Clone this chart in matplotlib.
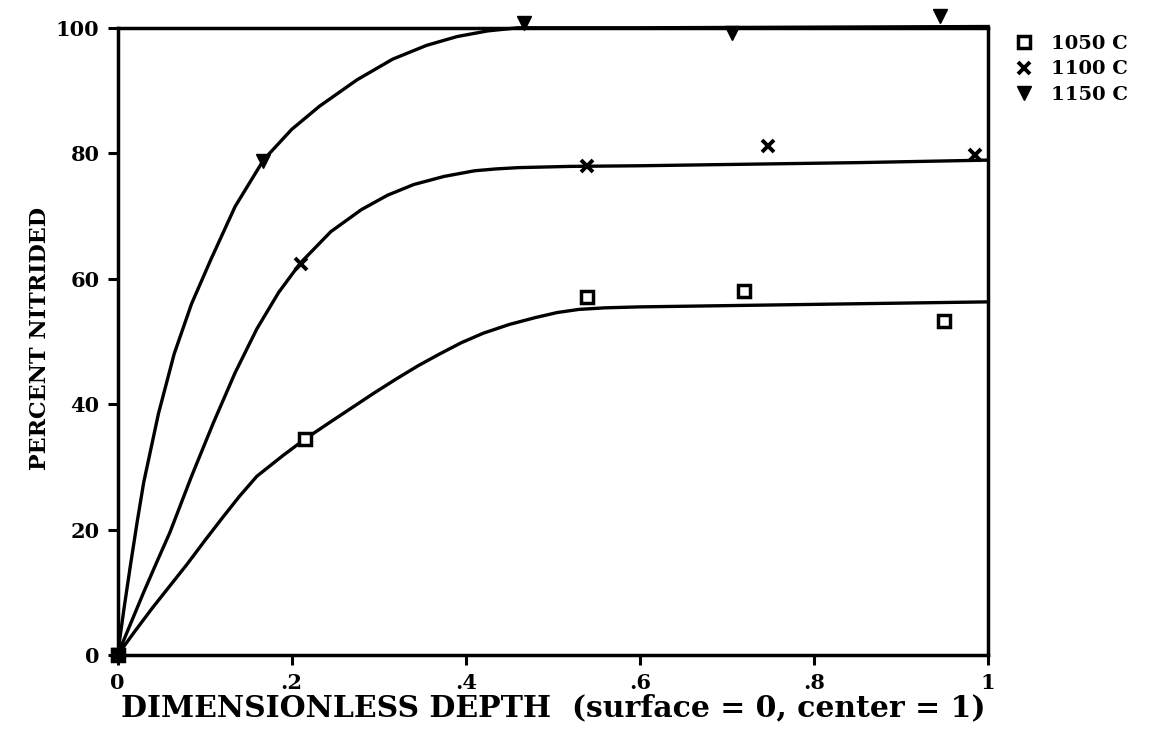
import matplotlib
matplotlib.use("Agg")
from matplotlib import pyplot as plt

# measured points
depth_1050 = [0, 0.215, 0.539, 0.72, 0.949]
pct_1050   = [0, 34.4, 57.0, 58.1, 53.3]
depth_1100 = [0, 0.211, 0.539, 0.747, 0.985]
pct_1100   = [0, 62.4, 77.9, 81.1, 79.7]
depth_1150 = [0, 0.167, 0.467, 0.706, 0.945]
pct_1150   = [0, 78.7, 100.8, 99.2, 101.8]

# hand-drawn fit curves
curve_x_1050 = [0, 0.02, 0.04, 0.06, 0.08, 0.10, 0.12, 0.14, 0.16, 0.19, 0.215, 0.245, 0.27, 0.295,
                0.32, 0.345, 0.37, 0.395, 0.42, 0.45, 0.48, 0.505, 0.53, 0.56, 0.6, 0.7, 0.85, 1.0]
curve_y_1050 = [0, 3.8, 7.5, 11.0, 14.5, 18.2, 21.8, 25.3, 28.5, 31.8, 34.4, 37.2, 39.5, 41.8,
                44.0, 46.1, 48.0, 49.8, 51.3, 52.7, 53.8, 54.6, 55.1, 55.35, 55.5, 55.7, 56.0, 56.3]
curve_x_1100 = [0, 0.015, 0.03, 0.045, 0.06, 0.085, 0.11, 0.135, 0.16, 0.185, 0.21, 0.245, 0.28,
                0.31, 0.34, 0.375, 0.41, 0.435, 0.46, 0.52, 0.6, 0.7, 0.85, 1.0]
curve_y_1100 = [0, 5.0, 10.0, 14.8, 19.5, 28.5, 37.0, 45.0, 52.0, 57.8, 62.5, 67.5, 71.0,
                73.3, 75.0, 76.3, 77.2, 77.5, 77.7, 77.9, 78.0, 78.2, 78.5, 78.9]
curve_x_1150 = [0, 0.0075, 0.015, 0.0225, 0.03, 0.047, 0.065, 0.085, 0.107, 0.135, 0.168, 0.2,
                0.232, 0.275, 0.316, 0.355, 0.39, 0.425, 0.46, 0.6, 0.8, 1.0]
curve_y_1150 = [0, 7.5, 14.5, 21.2, 27.5, 38.5, 48.0, 56.0, 63.0, 71.5, 79.0, 83.8,
                87.5, 91.7, 95.0, 97.2, 98.6, 99.5, 100.0, 100.0, 100.1, 100.2]

labels = ["1050 C", "1100 C", "1150 C"]
xticks = [0, 0.2, 0.4, 0.6, 0.8, 1.0]
xtick_labels = ["0", ".2", ".4", ".6", ".8", "1"]
yticks = [0, 20, 40, 60, 80, 100]

font = "DejaVu Serif"

fig = plt.figure(figsize=(11.64, 7.31), dpi=100)
ax = fig.add_axes([0.101, 0.104, 0.748, 0.858])

ax.plot(curve_x_1050, curve_y_1050, color="black", lw=2.4, clip_on=False)
ax.plot(curve_x_1100, curve_y_1100, color="black", lw=2.4, clip_on=False)
ax.plot(curve_x_1150, curve_y_1150, color="black", lw=2.4, clip_on=False)

ax.plot(depth_1050, pct_1050, ls="none", marker="s", ms=9, mfc="white", mec="black", mew=2.5,
        clip_on=False, label=labels[0])
ax.plot(depth_1100, pct_1100, ls="none", marker="x", ms=9, mec="black", mew=2.8,
        clip_on=False, label=labels[1])
ax.plot(depth_1150, pct_1150, ls="none", marker="v", ms=10, color="black",
        clip_on=False, label=labels[2])

ax.set_xlim(0, 1)
ax.set_ylim(0, 100)
ax.set_xticks(xticks)
ax.set_xticklabels(xtick_labels)
ax.set_yticks(yticks)
for s in ax.spines.values():
    s.set_linewidth(2.5)
ax.tick_params(direction="out", length=7, width=2.2, pad=6)
for lab in ax.get_xticklabels() + ax.get_yticklabels():
    lab.set_fontfamily(font)
    lab.set_fontweight("bold")
    lab.set_fontsize(15)

ax.set_xlabel("DIMENSIONLESS DEPTH  (surface = 0, center = 1)", fontfamily=font,
              fontweight="bold", fontsize=21.5, labelpad=0)
ax.set_ylabel("PERCENT NITRIDED", fontfamily=font, fontweight="bold", fontsize=16)
ax.yaxis.set_label_coords(-0.076, 0.504)

leg = ax.legend(loc="upper left", bbox_to_anchor=(1.021, 1.001), frameon=False,
                handlelength=1.0, handletextpad=0.9, labelspacing=0.38, borderaxespad=0,
                prop={"family": font, "weight": "bold", "size": 14})

fig.savefig("out.png", dpi=100)
